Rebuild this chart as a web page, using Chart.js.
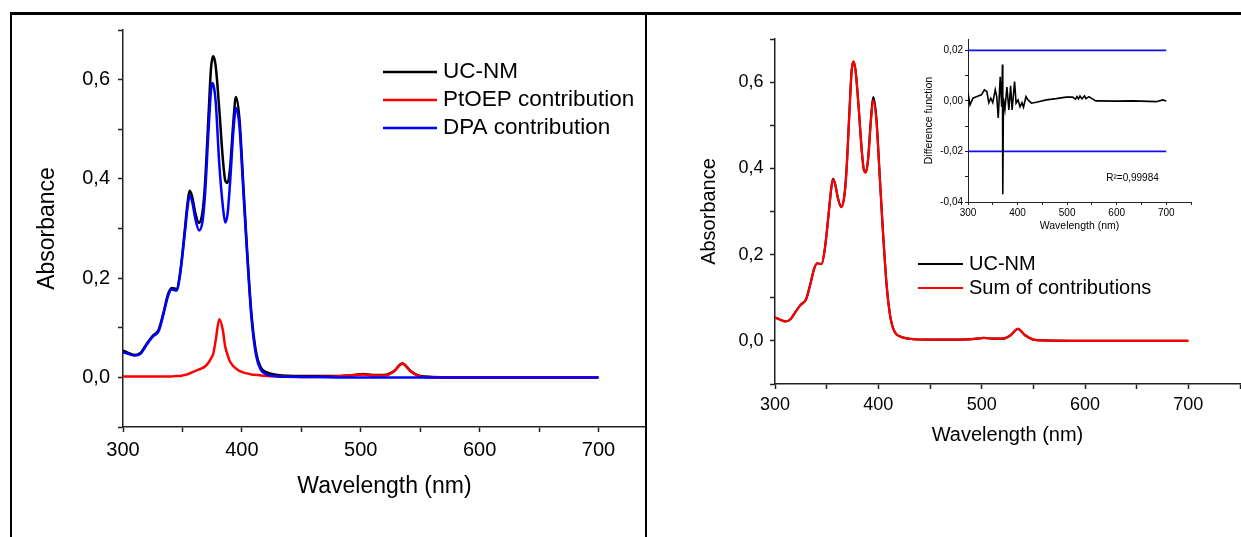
<!DOCTYPE html>
<html>
<head>
<meta charset="utf-8">
<script src="https://cdn.jsdelivr.net/npm/chart.js@4.4.1/dist/chart.umd.min.js"></script>
<style>
  body { margin: 0; background: #fff; width: 1241px; height: 537px; overflow: hidden; position: relative; }
  canvas, .rule { position: absolute; }
  .rule { background: #000; z-index: 5; }
</style>
</head>
<body>
<canvas id="leftChart" width="634" height="527" style="left:12px;top:10px"></canvas>
<canvas id="rightChart" width="598" height="523" style="left:647px;top:14px"></canvas>
<canvas id="insetChart" width="293" height="220" style="left:900px;top:20px;z-index:2"></canvas>

<!-- panel frame -->
<div class="rule" style="left:10px;top:12px;width:1231px;height:3px"></div>
<div class="rule" style="left:10px;top:12px;width:2px;height:525px"></div>
<div class="rule" style="left:645px;top:12px;width:1.5px;height:496px"></div>
<div class="rule" style="left:645px;top:507px;width:2px;height:30px"></div>

<script>
// wavelength grid (nm) shared by the absorbance spectra
const wavelength = [300, 305, 310, 315, 320, 325, 330, 334, 338, 341, 345, 348, 352, 354, 356, 358, 361, 364, 367, 369,
  372, 374, 375, 376, 378, 381, 384, 386, 388, 390, 393, 395, 398, 401, 404, 408, 412, 416, 421, 430,
  450, 480, 495, 502, 510, 520, 528, 535, 542, 550, 560, 600, 650, 700];

const ucNm = [0.054, 0.049, 0.045, 0.050, 0.068, 0.084, 0.096, 0.130, 0.168, 0.180, 0.178, 0.210, 0.297, 0.345, 0.376, 0.366, 0.330, 0.311, 0.335, 0.390,
  0.530, 0.622, 0.641, 0.647, 0.627, 0.540, 0.440, 0.397, 0.392, 0.420, 0.520, 0.565, 0.520, 0.398, 0.272, 0.130, 0.050, 0.020, 0.010, 0.005,
  0.003, 0.003, 0.005, 0.007, 0.005, 0.005, 0.013, 0.028, 0.013, 0.003, 0.001, 0.000, 0.000, 0.000];

const ptoep = [0.002, 0.002, 0.002, 0.002, 0.002, 0.002, 0.002, 0.002, 0.002, 0.002, 0.003, 0.003, 0.005, 0.006, 0.008, 0.010, 0.013, 0.016, 0.019, 0.022,
  0.030, 0.038, 0.042, 0.048, 0.075, 0.117, 0.095, 0.062, 0.045, 0.032, 0.022, 0.018, 0.013, 0.010, 0.008, 0.006, 0.005, 0.004, 0.003, 0.002,
  0.001, 0.002, 0.005, 0.006, 0.004, 0.004, 0.012, 0.028, 0.012, 0.002, 0.000, 0.000, 0.000, 0.000];

const dpa = [0.051, 0.047, 0.044, 0.048, 0.066, 0.082, 0.093, 0.127, 0.165, 0.177, 0.175, 0.206, 0.290, 0.336, 0.366, 0.356, 0.318, 0.296, 0.316, 0.368,
  0.500, 0.577, 0.593, 0.590, 0.555, 0.430, 0.345, 0.312, 0.330, 0.390, 0.500, 0.543, 0.505, 0.385, 0.265, 0.122, 0.044, 0.015, 0.006, 0.002,
  0.001, 0.000, 0.000, 0.000, 0.000, 0.000, 0.000, 0.000, 0.000, 0.000, 0.000, 0.000, 0.000, 0.000];

const sumContrib = [0.054, 0.049, 0.045, 0.050, 0.068, 0.084, 0.096, 0.129, 0.168, 0.180, 0.178, 0.209, 0.296, 0.344, 0.374, 0.365, 0.330, 0.310, 0.333, 0.385,
  0.528, 0.620, 0.641, 0.648, 0.625, 0.540, 0.440, 0.396, 0.390, 0.418, 0.515, 0.558, 0.515, 0.396, 0.272, 0.130, 0.050, 0.020, 0.010, 0.005,
  0.003, 0.003, 0.005, 0.007, 0.005, 0.005, 0.013, 0.028, 0.013, 0.003, 0.001, 0.000, 0.000, 0.000];

// inset: difference function
const diffWavelength = [300, 304, 310, 318, 327, 333, 338, 342, 346, 350, 355, 358, 361, 365, 368, 369.5, 370.2, 371.5, 374.5, 378.5,
  382.5, 386, 389, 394, 397, 401, 405, 409, 412, 417, 421, 428, 438, 458, 478, 498, 511, 517, 520, 523,
  526, 530, 535, 538, 544, 550, 558, 600, 632, 680, 693, 700];
const diffValue = [0.0033, -0.0016, 0.0011, 0.0017, 0.0024, 0.0044, 0.0037, -0.0007, 0.0011, -0.0007, 0.0044, 0.0017, -0.0067, 0.0095, -0.0023, 0.0144, -0.0369, 0.0010, -0.0033, 0.0055,
  -0.0036, 0.0060, -0.0036, 0.0077, -0.0009, 0.0004, -0.0023, -0.0007, -0.0025, 0.0017, 0.0004, -0.0009, -0.0005, 0.0004, 0.0009, 0.0015, 0.0015, 0.0007, 0.0017, 0.0008,
  0.0019, 0.0008, 0.0020, 0.0009, 0.0017, 0.0009, 0.0000, -0.0001, 0.0000, -0.0003, 0.0004, 0.0000];
const limitWavelength = [300, 700];
const upperLimit = [0.02, 0.02];
const lowerLimit = [-0.02, -0.02];
const rSquared = 'R\u00B2=0,99984';

// axis ticks and labels
const wlTicks = [300, 350, 400, 450, 500, 550, 600, 650, 700];
const wlTicksWide = [300, 350, 400, 450, 500, 550, 600, 650, 700, 750];
const wlLabels = ['300', '', '400', '', '500', '', '600', '', '700', ''];
const absTicks = [-0.1, 0, 0.1, 0.2, 0.3, 0.4, 0.5, 0.6, 0.7];
const absLabels = ['', '0,0', '', '0,2', '', '0,4', '', '0,6', ''];
const diffTicks = [-0.04, -0.03, -0.02, -0.01, 0, 0.01, 0.02];
const diffLabels = ['-0,04', '', '-0,02', '', '0,00', '', '0,02'];

Chart.defaults.font.family = '"Liberation Sans", Arial, sans-serif';
Chart.defaults.color = '#000';
Chart.defaults.animation = false;
Chart.defaults.events = [];
Chart.defaults.plugins.legend.display = false;
Chart.defaults.plugins.tooltip.enabled = false;

function points(xs, ys) {
  return xs.map((x, i) => ({ x: x, y: ys[i] }));
}

function axis(o) {
  return {
    type: 'linear',
    min: o.min,
    max: o.max,
    afterFit: (s) => { if (s.isHorizontal()) s.height = o.size; else s.width = o.size; },
    afterBuildTicks: (s) => { s.ticks = o.ticks.map(v => ({ value: v })); },
    ticks: {
      font: { size: o.tickFont }, padding: o.tickPad, color: '#000',
      autoSkip: false, maxRotation: 0,
      callback: (v, i) => o.labels[i]
    },
    grid: { drawOnChartArea: false, tickLength: o.tickLen, tickColor: '#222', tickWidth: o.lw },
    border: { color: '#222', width: o.lw },
    title: { display: true, text: o.title, color: '#000', font: { size: o.titleFont }, padding: o.titlePad }
  };
}

function line(label, xs, ys, color, width, order) {
  return {
    label: label,
    data: points(xs, ys),
    borderColor: color,
    borderWidth: width,
    pointRadius: 0,
    fill: false,
    cubicInterpolationMode: 'monotone',
    order: order
  };
}

// legend drawn inside the plot area: short line + label per dataset
const lineLegend = {
  id: 'lineLegend',
  afterDatasetsDraw(chart, args, opts) {
    const ctx = chart.ctx;
    ctx.save();
    ctx.font = opts.fontSize + 'px "Liberation Sans", Arial, sans-serif';
    ctx.textBaseline = 'middle';
    ctx.textAlign = 'left';
    chart.data.datasets.forEach((ds, i) => {
      const y = opts.y + i * opts.rowGap;
      ctx.strokeStyle = ds.borderColor;
      ctx.lineWidth = opts.lineWidth;
      ctx.beginPath();
      ctx.moveTo(opts.x, y);
      ctx.lineTo(opts.x + opts.lineLen, y);
      ctx.stroke();
      ctx.fillStyle = '#000';
      ctx.fillText(ds.label, opts.x + opts.lineLen + opts.gap, y);
    });
    ctx.restore();
  }
};

// R² note in the inset, placed in data coordinates
const fitNote = {
  id: 'fitNote',
  afterDraw(chart, args, opts) {
    const ctx = chart.ctx;
    const x = chart.scales.x.getPixelForValue(opts.atX);
    const y = chart.scales.y.getPixelForValue(opts.atY);
    ctx.save();
    ctx.fillStyle = '#000';
    ctx.textBaseline = 'middle';
    ctx.font = '10px "Liberation Sans", Arial, sans-serif';
    ctx.fillText(opts.text, x, y);
    ctx.restore();
  }
};

// left panel: measured spectrum and its two contributions
new Chart(document.getElementById('leftChart'), {
  type: 'line',
  data: {
    datasets: [
      line('UC-NM', wavelength, ucNm, '#000000', 2.5, 3),
      line('PtOEP contribution', wavelength, ptoep, '#ff0000', 2.5, 2),
      line('DPA contribution', wavelength, dpa, '#0000ff', 2.5, 1)
    ]
  },
  options: {
    responsive: false,
    layout: { padding: { top: 20, left: 0, right: 0, bottom: 0 } },
    scales: {
      x: axis({ min: 300, max: 740, size: 110, ticks: wlTicks, labels: wlLabels, tickFont: 20, tickPad: 6, tickLen: 5, lw: 1.5,
        title: 'Wavelength (nm)', titleFont: 23, titlePad: { top: 0, bottom: 37 } }),
      y: axis({ min: -0.1, max: 0.7, size: 111, ticks: absTicks, labels: absLabels, tickFont: 20, tickPad: 8, tickLen: 5, lw: 1.5,
        title: 'Absorbance', titleFont: 23, titlePad: { top: 22, bottom: 0 } })
    },
    plugins: {
      lineLegend: { x: 371, y: 62, rowGap: 28, lineLen: 54, gap: 6, lineWidth: 2.5, fontSize: 22.5 }
    }
  },
  plugins: [lineLegend]
});

// right panel: measured spectrum vs sum of contributions
new Chart(document.getElementById('rightChart'), {
  type: 'line',
  data: {
    datasets: [
      line('UC-NM', wavelength, ucNm, '#000000', 2.2, 2),
      line('Sum of contributions', wavelength, sumContrib, '#ff0000', 2.2, 1)
    ]
  },
  options: {
    responsive: false,
    layout: { padding: { top: 25, left: 0, right: 0, bottom: 0 } },
    scales: {
      x: axis({ min: 300, max: 750, size: 153, ticks: wlTicksWide, labels: wlLabels, tickFont: 18, tickPad: 5, tickLen: 5, lw: 1.5,
        title: 'Wavelength (nm)', titleFont: 20, titlePad: { top: 0, bottom: 90 } }),
      y: axis({ min: -0.1, max: 0.7, size: 128, ticks: absTicks, labels: absLabels, tickFont: 18, tickPad: 6.5, tickLen: 5, lw: 1.5,
        title: 'Absorbance', titleFont: 20, titlePad: { top: 50, bottom: 0 } })
    },
    plugins: {
      lineLegend: { x: 271, y: 250, rowGap: 24, lineLen: 45, gap: 6, lineWidth: 2.2, fontSize: 20 }
    }
  },
  plugins: [lineLegend]
});

// inset: difference function with ±0.02 limits
const inset = {
  type: 'line',
  data: {
    datasets: [
      Object.assign(line('Difference', diffWavelength, diffValue, '#000000', 1.6, 0), { cubicInterpolationMode: 'default', tension: 0 }),
      line('+limit', limitWavelength, upperLimit, '#1010ee', 1.8, 1),
      line('-limit', limitWavelength, lowerLimit, '#1010ee', 1.8, 1)
    ]
  },
  options: {
    responsive: false,
    layout: { padding: { top: 19, left: 0, right: 0, bottom: 0 } },
    scales: {
      x: axis({ min: 300, max: 750, size: 38, ticks: wlTicksWide, labels: wlLabels, tickFont: 10, tickPad: 2, tickLen: 3, lw: 1,
        title: 'Wavelength (nm)', titleFont: 10.5, titlePad: { top: 0, bottom: 7.5 } }),
      y: axis({ min: -0.04, max: 0.0245, size: 68, ticks: diffTicks, labels: diffLabels, tickFont: 10, tickPad: 2, tickLen: 3, lw: 1,
        title: 'Difference function', titleFont: 10.5, titlePad: { top: 23, bottom: 0 } })
    },
    plugins: {
      fitNote: { text: rSquared, atX: 579, atY: -0.0305 }
    }
  },
  plugins: [fitNote]
};
new Chart(document.getElementById('insetChart'), inset);
</script>
</body>
</html>
